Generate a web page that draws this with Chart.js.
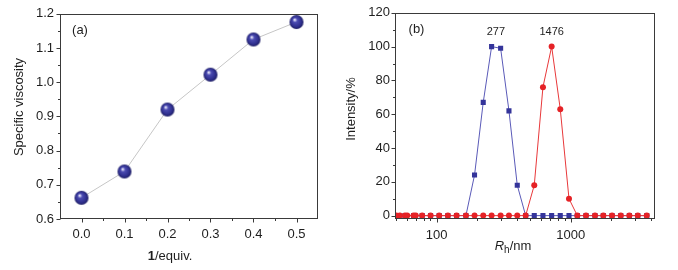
<!DOCTYPE html>
<html><head><meta charset="utf-8">
<script src="https://cdn.jsdelivr.net/npm/chart.js@4"></script>
<style>
html,body{margin:0;padding:0;background:#fff;width:678px;height:270px;overflow:hidden}
#a{position:absolute;left:0;top:0}
#b{position:absolute;left:340px;top:0}
</style>
</head><body>
<canvas id="a" width="340" height="270"></canvas>
<canvas id="b" width="338" height="270"></canvas>
<script>
// ---------- data: panel (a) ----------
const viscRatio  = [0.0, 0.1, 0.2, 0.3, 0.4, 0.5];
const viscValues = [0.662, 0.739, 0.920, 1.022, 1.125, 1.176];
const viscXTicks = [0.0, 0.1, 0.2, 0.3, 0.4, 0.5];
const viscXMinor = [0.05, 0.15, 0.25, 0.35, 0.45];
const viscYTicks = [0.6, 0.7, 0.8, 0.9, 1.0, 1.1, 1.2];
const viscYMinor = [0.65, 0.75, 0.85, 0.95, 1.05, 1.15];

// ---------- data: panel (b) ----------
const blueRh = [50.1, 58.1, 67.4, 78.1, 90.2, 104.6, 121.4, 141.0, 165.5, 191.9, 222.8, 257.2, 300.3, 346.5, 399.6, 461.6, 535, 621, 721, 836, 971, 1120, 1300, 1517, 1750, 2033, 2361, 2737, 3162, 3690];
const blueIntensity = [0, 0, 0, 0, 0, 0, 0, 0, 0, 24, 67, 100, 99, 62, 18, 0, 0, 0, 0, 0, 0, 0, 0, 0, 0, 0, 0, 0, 0, 0];
const redRh = [50.1, 53.2, 58.1, 60.4, 67.4, 70.0, 78.1, 90.2, 104.6, 121.4, 141.0, 165.5, 191.9, 222.8, 257.2, 300.3, 346.5, 399.6, 461.6, 535, 621, 721, 836, 971, 1120, 1300, 1517, 1750, 2033, 2361, 2737, 3162, 3690];
const redIntensity = [0, 0, 0, 0, 0, 0, 0, 0, 0, 0, 0, 0, 0, 0, 0, 0, 0, 0, 0, 18, 76, 100, 63, 10, 0, 0, 0, 0, 0, 0, 0, 0, 0];
const rhTicks = [100, 1000];
const rhMinor = [50, 60, 70, 80, 90, 200, 300, 400, 500, 600, 700, 800, 900, 2000, 3000, 4000];
const intensityTicks = [0, 20, 40, 60, 80, 100, 120];
const intensityMinor = [10, 30, 50, 70, 90, 110];
const peakLabels = ['277', '1476'];
const peakLabelRh = [277, 721];
const peakLabelY = 108.5;

const FONT = '"Liberation Sans", Arial, sans-serif';
const TXT = '#1e1e1e';

function sphere(r) {
  const c = document.createElement('canvas');
  const s = 2 * r + 2;
  c.width = s; c.height = s;
  const g = c.getContext('2d');
  const cx = s / 2, cy = s / 2;
  const grad = g.createRadialGradient(cx - r * 0.3, cy - r * 0.38, 0, cx, cy, r);
  grad.addColorStop(0, '#ffffff');
  grad.addColorStop(0.13, '#c8c8ee');
  grad.addColorStop(0.32, '#4c4cb2');
  grad.addColorStop(0.75, '#30308f');
  grad.addColorStop(1, '#1d1d63');
  g.fillStyle = grad;
  g.beginPath(); g.arc(cx, cy, r, 0, Math.PI * 2); g.fill();
  return c;
}

const deco = {
  id: 'deco',
  afterDraw(chart, args, o) {
    const ctx = chart.ctx, a = chart.chartArea;
    const xs = chart.scales.x, ys = chart.scales.y;
    ctx.save();
    ctx.strokeStyle = '#3a3a3a';
    ctx.lineWidth = 1;
    const L = Math.round(a.left) + 0.5, R = Math.round(a.right) - 0.5;
    const T = Math.round(a.top) + 0.5, B = Math.round(a.bottom) - 0.5;
    ctx.strokeRect(L, T, R - L, B - T);
    ctx.beginPath();
    const xt = (vals, len) => vals.forEach(v => {
      const p = Math.round(xs.getPixelForValue(v)) + 0.5;
      if (p < L - 1 || p > R + 1) return;
      ctx.moveTo(p, B); ctx.lineTo(p, B + len);
    });
    const yt = (vals, len) => vals.forEach(v => {
      const p = Math.round(ys.getPixelForValue(v)) + 0.5;
      ctx.moveTo(L, p); ctx.lineTo(L - len, p);
    });
    xt(o.xMajor, 4); xt(o.xMinor, 2.5);
    yt(o.yMajor, 4); yt(o.yMinor, 2.5);
    ctx.stroke();
    ctx.fillStyle = TXT;
    o.text(ctx, chart);
    ctx.restore();
  }
};

function commonScale(extra) {
  return Object.assign({
    grid: { display: false, drawTicks: false },
    border: { display: false },
  }, extra);
}

// ---------- chart (a) ----------
new Chart(document.getElementById('a'), {
  type: 'line',
  data: {
    datasets: [{
      data: viscRatio.map((x, i) => ({ x: x, y: viscValues[i] })),
      borderColor: '#c6c6c6',
      borderWidth: 1,
      pointStyle: sphere(7),
      pointRadius: 7,
      pointHoverRadius: 7,
      tension: 0,
      clip: false
    }]
  },
  options: {
    responsive: false, animation: false, devicePixelRatio: 1,
    layout: { padding: { top: 10, right: 22, left: 0, bottom: 0 } },
    plugins: {
      legend: { display: false }, tooltip: { enabled: false },
      deco: {
        xMajor: viscXTicks, xMinor: viscXMinor, yMajor: viscYTicks, yMinor: viscYMinor,
        text(ctx) {
          ctx.font = '13px ' + FONT;
          ctx.textAlign = 'center'; ctx.textBaseline = 'middle';
          ctx.fillText('(a)', 80, 30);
          ctx.save();
          ctx.translate(19, 107); ctx.rotate(-Math.PI / 2);
          ctx.fillText('Specific viscosity', 0, 0);
          ctx.restore();
          const bold = 'bold 13px ' + FONT, norm = '13px ' + FONT;
          ctx.font = bold; const w1 = ctx.measureText('1').width;
          ctx.font = norm; const w2 = ctx.measureText('/equiv.').width;
          let x0 = 170 - (w1 + w2) / 2;
          ctx.textAlign = 'left';
          ctx.font = bold; ctx.fillText('1', x0, 256);
          ctx.font = norm; ctx.fillText('/equiv.', x0 + w1, 256);
        }
      }
    },
    scales: {
      x: commonScale({
        type: 'linear', min: -0.05, max: 0.55,
        afterFit: s => { s.height = 51; },
        afterBuildTicks: s => { s.ticks = viscXTicks.map(v => ({ value: v })); },
        ticks: { padding: 8, color: TXT, font: { family: FONT, size: 13 }, maxRotation: 0, autoSkip: false,
                 callback: v => Number(v).toFixed(1) }
      }),
      y: commonScale({
        type: 'linear', min: 0.6, max: 1.2,
        afterFit: s => { s.width = 60; },
        afterBuildTicks: s => { s.ticks = viscYTicks.map(v => ({ value: v })); },
        ticks: { padding: 6, color: TXT, font: { family: FONT, size: 13 }, autoSkip: false,
                 callback: v => Number(v).toFixed(1) }
      })
    }
  },
  plugins: [deco]
});

// ---------- chart (b) ----------
new Chart(document.getElementById('b'), {
  type: 'line',
  data: {
    datasets: [{
      data: redRh.map((x, i) => ({ x: x, y: redIntensity[i] })),
      borderColor: '#e8383a', backgroundColor: '#e52226',
      borderWidth: 1, pointStyle: 'circle', pointRadius: 3, pointHoverRadius: 3,
      pointBorderWidth: 0, tension: 0, order: 1
    }, {
      data: blueRh.map((x, i) => ({ x: x, y: blueIntensity[i] })),
      borderColor: '#5a5ab8', backgroundColor: '#34349a',
      borderWidth: 1, pointStyle: 'rect', pointRadius: 3.6, pointHoverRadius: 3.6,
      pointBorderWidth: 0, tension: 0, order: 2
    }]
  },
  options: {
    responsive: false, animation: false, devicePixelRatio: 1,
    layout: { padding: { top: 10, right: 23, left: 0, bottom: 0 } },
    plugins: {
      legend: { display: false }, tooltip: { enabled: false },
      deco: {
        xMajor: rhTicks, xMinor: rhMinor, yMajor: intensityTicks, yMinor: intensityMinor,
        text(ctx, chart) {
          const xs = chart.scales.x, ys = chart.scales.y;
          ctx.font = '13px ' + FONT;
          ctx.textAlign = 'center'; ctx.textBaseline = 'middle';
          ctx.fillText('(b)', 76.5, 29);
          ctx.font = '11px ' + FONT;
          peakLabels.forEach((t, i) => {
            ctx.fillText(t, xs.getPixelForValue(peakLabelRh[i]), ys.getPixelForValue(peakLabelY));
          });
          ctx.font = '13px ' + FONT;
          ctx.save();
          ctx.translate(11, 109); ctx.rotate(-Math.PI / 2);
          ctx.fillText('Intensity/%', 0, 0);
          ctx.restore();
          const it = 'italic 13px ' + FONT, nm = '13px ' + FONT, sb = '10px ' + FONT;
          ctx.font = it; const wR = ctx.measureText('R').width;
          ctx.font = sb; const wh = ctx.measureText('h').width;
          ctx.font = nm; const wn = ctx.measureText('/nm').width;
          let x0 = 173 - (wR + wh + wn) / 2;
          ctx.textAlign = 'left';
          ctx.font = it; ctx.fillText('R', x0, 246);
          ctx.font = sb; ctx.fillText('h', x0 + wR, 250);
          ctx.font = nm; ctx.fillText('/nm', x0 + wR + wh, 246);
        }
      }
    },
    scales: {
      x: commonScale({
        type: 'logarithmic', min: 49, max: 4250,
        afterFit: s => { s.height = 51; },
        afterBuildTicks: s => { s.ticks = rhTicks.map(v => ({ value: v })); },
        ticks: { padding: 9, color: TXT, font: { family: FONT, size: 13 }, maxRotation: 0, autoSkip: false,
                 callback: v => String(v) }
      }),
      y: commonScale({
        type: 'linear', min: -2, max: 120,
        afterFit: s => { s.width = 55; },
        afterBuildTicks: s => { s.ticks = intensityTicks.map(v => ({ value: v })); },
        ticks: { padding: 5, color: TXT, font: { family: FONT, size: 13 }, autoSkip: false,
                 callback: v => String(v) }
      })
    }
  },
  plugins: [deco]
});
</script>
</body></html>
